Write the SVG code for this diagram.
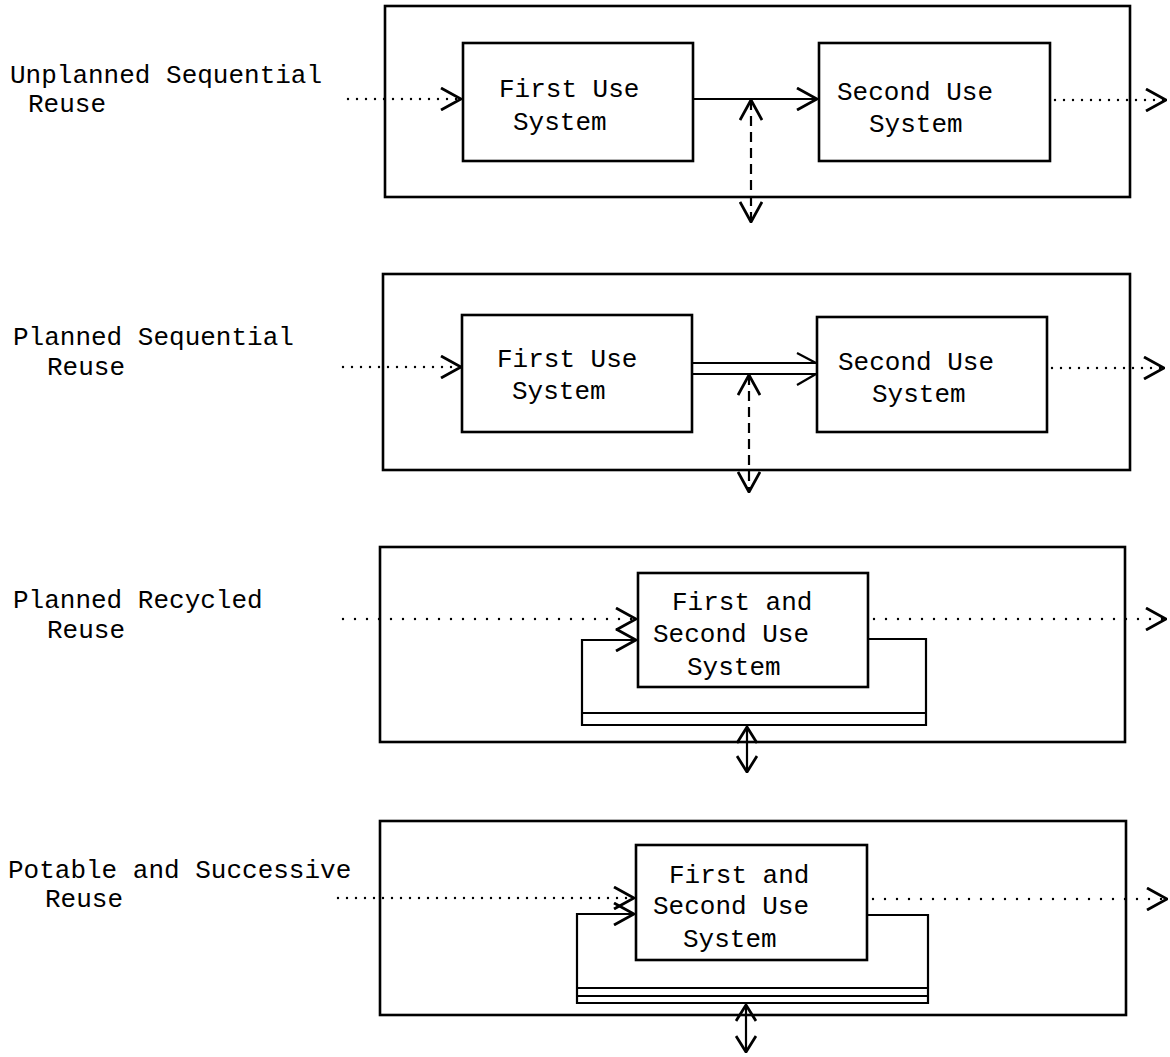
<svg xmlns="http://www.w3.org/2000/svg" width="1170" height="1057" viewBox="0 0 1170 1057">
<style>
  .bg{fill:#fff}
  .frame{fill:none;stroke:#000;stroke-width:2.6}
  .box{fill:#fff;stroke:#000;stroke-width:2.6}
  .solid{fill:none;stroke:#000;stroke-width:2.2}
  .dot{fill:none;stroke:#000;stroke-width:2.4;stroke-linecap:round;stroke-dasharray:0 9}
  .dotw{fill:none;stroke:#000;stroke-width:2.4;stroke-linecap:round;stroke-dasharray:0 12}
  .dash{fill:none;stroke:#000;stroke-width:2.2;stroke-dasharray:10 6}
  text{font-family:"Liberation Mono","DejaVu Sans Mono",monospace;font-size:26px;fill:#000}
</style>
<defs>
  <marker id="ah" viewBox="0 0 22 24" refX="21" refY="12" markerWidth="22" markerHeight="24" markerUnits="userSpaceOnUse" orient="auto-start-reverse">
    <path d="M1,1 L21,12 L1,23" fill="none" stroke="#000" stroke-width="2.8" stroke-dasharray="none"/>
  </marker>
  <marker id="ahs" viewBox="0 0 18 22" refX="17" refY="11" markerWidth="18" markerHeight="22" markerUnits="userSpaceOnUse" orient="auto-start-reverse">
    <path d="M1,1 L17,11 L1,21" fill="none" stroke="#000" stroke-width="2.8" stroke-dasharray="none"/>
  </marker>
</defs>
<rect class="bg" x="0" y="0" width="1170" height="1057"/>

<g id="labels">
  <text x="10" y="83">Unplanned Sequential</text>
  <text x="28" y="112">Reuse</text>
  <text x="13" y="345">Planned Sequential</text>
  <text x="47" y="375">Reuse</text>
  <text x="13" y="608">Planned Recycled</text>
  <text x="47" y="638">Reuse</text>
  <text x="8" y="878">Potable and Successive</text>
  <text x="45" y="907">Reuse</text>
</g>

<g id="frames">
  <rect id="frame1" class="frame" x="385" y="6" width="745" height="191"/>
  <rect id="frame2" class="frame" x="383" y="274" width="747" height="196"/>
  <rect id="frame3" class="frame" x="380" y="547" width="745" height="195"/>
  <rect id="frame4" class="frame" x="380" y="821" width="746" height="194"/>
</g>

<g id="connectors">
  <!-- panel 1 -->
  <line class="dot" x1="348" y1="99" x2="461" y2="99" marker-end="url(#ah)"/>
  <line class="solid" x1="693" y1="99" x2="817" y2="99" marker-end="url(#ah)"/>
  <line class="dash" x1="751" y1="100" x2="751" y2="222" marker-start="url(#ah)" marker-end="url(#ah)"/>
  <line class="dot" x1="1055" y1="100" x2="1166" y2="100" marker-end="url(#ah)"/>
  <!-- panel 2 -->
  <line class="dot" x1="343" y1="367" x2="461" y2="367" marker-end="url(#ah)"/>
  <line class="solid" x1="692" y1="363" x2="816" y2="363"/>
  <line class="solid" x1="692" y1="374" x2="816" y2="374"/>
  <path class="solid" d="M797,353 L816,363 M797,385 L816,374" stroke-width="2.8"/>
  <line class="dash" x1="749" y1="375" x2="749" y2="492" marker-start="url(#ah)" marker-end="url(#ah)"/>
  <line class="dot" x1="1052" y1="368" x2="1164" y2="368" marker-end="url(#ah)"/>
  <!-- panel 3 -->
  <line class="dotw" x1="343" y1="619" x2="636" y2="619" marker-end="url(#ah)"/>
  <path class="solid" d="M868,639 H926 V725 H582 V640 H636" marker-end="url(#ah)"/>
  <line class="solid" x1="582" y1="713" x2="926" y2="713"/>
  <line class="solid" x1="747" y1="727" x2="747" y2="772" marker-start="url(#ahs)" marker-end="url(#ahs)"/>
  <line class="dotw" x1="874" y1="619" x2="1166" y2="619" marker-end="url(#ah)"/>
  <!-- panel 4 -->
  <line class="dot" x1="338" y1="898" x2="634" y2="898" marker-end="url(#ah)"/>
  <path class="solid" d="M867,915 H928 V1003 H577 V914 H634" marker-end="url(#ah)"/>
  <line class="solid" x1="577" y1="988" x2="928" y2="988"/>
  <line class="solid" x1="577" y1="996" x2="928" y2="996"/>
  <line class="solid" x1="746" y1="1005" x2="746" y2="1052" marker-start="url(#ahs)" marker-end="url(#ahs)"/>
  <line class="dotw" x1="873" y1="899" x2="1167" y2="899" marker-end="url(#ah)"/>
</g>

<g id="node-p1-first">
  <rect class="box" x="463" y="43" width="230" height="118"/>
  <text x="499" y="97">First Use</text>
  <text x="513" y="130">System</text>
</g>
<g id="node-p1-second">
  <rect class="box" x="819" y="43" width="231" height="118"/>
  <text x="837" y="100">Second Use</text>
  <text x="869" y="132">System</text>
</g>
<g id="node-p2-first">
  <rect class="box" x="462" y="315" width="230" height="117"/>
  <text x="497" y="367">First Use</text>
  <text x="512" y="399">System</text>
</g>
<g id="node-p2-second">
  <rect class="box" x="817" y="317" width="230" height="115"/>
  <text x="838" y="370">Second Use</text>
  <text x="872" y="402">System</text>
</g>
<g id="node-p3">
  <rect class="box" x="638" y="573" width="230" height="114"/>
  <text x="672" y="610">First and</text>
  <text x="653" y="642">Second Use</text>
  <text x="687" y="675">System</text>
</g>
<g id="node-p4">
  <rect class="box" x="636" y="845" width="231" height="115"/>
  <text x="669" y="883">First and</text>
  <text x="653" y="914">Second Use</text>
  <text x="683" y="947">System</text>
</g>
</svg>
